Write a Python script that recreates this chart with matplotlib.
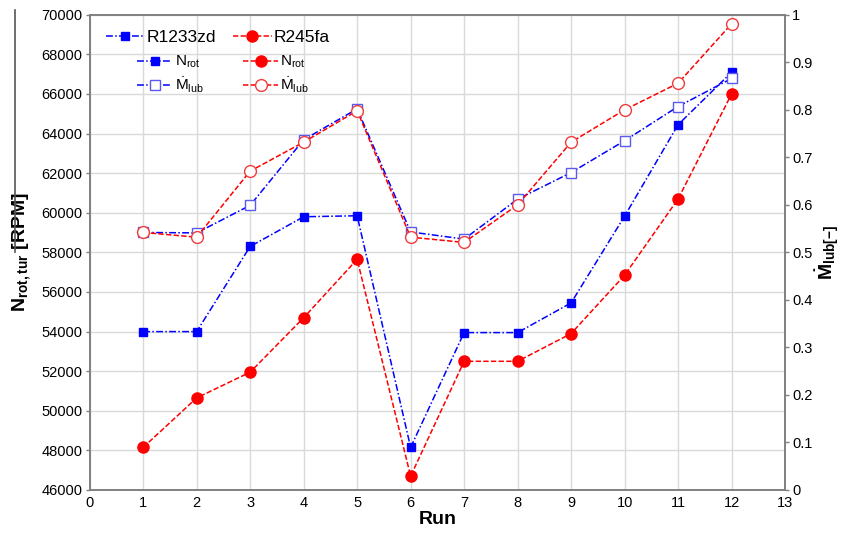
import matplotlib
matplotlib.use("Agg")
import matplotlib.pyplot as plt
from matplotlib.lines import Line2D

plt.rcParams['font.family'] = ['Liberation Sans', 'DejaVu Sans']
plt.rcParams['mathtext.fontset'] = 'custom'
plt.rcParams['mathtext.rm'] = 'Liberation Sans'
plt.rcParams['mathtext.it'] = 'Liberation Sans'
plt.rcParams['mathtext.bf'] = 'Liberation Sans:bold'

runs = [1, 2, 3, 4, 5, 6, 7, 8, 9, 10, 11, 12]
nrot_r1233zd = [54000, 54000, 58300, 59800, 59850, 48150, 53950, 53950, 55450, 59830, 64450, 67100]
nrot_r245fa = [48150, 50650, 51950, 54700, 57650, 46700, 52500, 52500, 53900, 56850, 60700, 66000]
mlub_r1233zd = [0.542, 0.541, 0.599, 0.737, 0.802, 0.543, 0.528, 0.612, 0.668, 0.735, 0.807, 0.866]
mlub_r245fa = [0.542, 0.532, 0.671, 0.732, 0.798, 0.532, 0.521, 0.600, 0.732, 0.800, 0.856, 0.981]

xticks = list(range(0, 14))
yticks_left = list(range(46000, 70001, 2000))
yticks_right = [0, 0.1, 0.2, 0.3, 0.4, 0.5, 0.6, 0.7, 0.8, 0.9, 1]
yticklabels_right = ['0', '0.1', '0.2', '0.3', '0.4', '0.5', '0.6', '0.7', '0.8', '0.9', '1']

BLUE = '#0000ff'
RED = '#ff0000'
BLUE_OPEN = '#5a5aee'
RED_OPEN = '#f03c3c'
blue_ls = (0, (4.5, 1.5, 1, 1.5))
red_ls = (0, (3.5, 1.5))

fig = plt.figure(figsize=(8.46, 5.34), dpi=100)
ax = fig.add_axes([0.106, 0.0824, 0.822, 0.8899])
ax2 = ax.twinx()

ax.set_xlim(0, 13)
ax.set_ylim(46000, 70000)
ax2.set_ylim(0, 1)
ax.set_xticks(xticks)
ax.set_yticks(yticks_left)
ax2.set_yticks(yticks_right)
ax2.set_yticklabels(yticklabels_right)

ax.grid(True, color='#d9d9d9', linewidth=1.0)
ax.set_axisbelow(True)
for a in (ax, ax2):
    for s in a.spines.values():
        s.set_color('#808080')
        s.set_linewidth(1.2)
    a.tick_params(axis='both', colors='#808080', labelcolor='black', labelsize=10.5, length=3, width=1)
ax.tick_params(axis='x', length=0, pad=4)
ax.tick_params(axis='y', pad=2)
ax2.tick_params(axis='y', pad=2)

lw = 1.1
l1, = ax.plot(runs, nrot_r1233zd, color=BLUE, linestyle=blue_ls, linewidth=lw,
              marker='s', markersize=6, markerfacecolor=BLUE, markeredgecolor=BLUE, zorder=3)
l2, = ax.plot(runs, nrot_r245fa, color=RED, linestyle=red_ls, linewidth=lw,
              marker='o', markersize=8, markerfacecolor=RED, markeredgecolor=RED, zorder=3)
l3, = ax2.plot(runs, mlub_r1233zd, color=BLUE, linestyle=blue_ls, linewidth=lw,
               marker='s', markersize=7, markerfacecolor='white', markeredgecolor=BLUE_OPEN,
               markeredgewidth=1.0, zorder=3)
l4, = ax2.plot(runs, mlub_r245fa, color=RED, linestyle=red_ls, linewidth=lw,
               marker='o', markersize=8.5, markerfacecolor='white', markeredgecolor=RED_OPEN,
               markeredgewidth=1.0, zorder=3)

ax.set_xlabel('Run', fontsize=14, fontweight='bold', labelpad=1)
ax.set_ylabel(r'$\mathbf{N_{rot,tur}}$ [RPM]', fontsize=14, fontweight='bold', labelpad=6)
ax2.set_ylabel(r'$\mathbf{\dot{M}_{lub[-]}}$', fontsize=14, labelpad=1)

# odd vertical rule at the far left of the reference
fig.add_artist(Line2D([15 / 846, 15 / 846], [1 - 10 / 534, 1 - 252 / 534],
                      color='#555555', linewidth=1.2))

h_r1 = Line2D([], [], color=BLUE, linestyle=blue_ls, linewidth=lw, marker='s', markersize=6,
              markerfacecolor=BLUE, markeredgecolor=BLUE)
h_r2 = Line2D([], [], color=RED, linestyle=red_ls, linewidth=lw, marker='o', markersize=8,
              markerfacecolor=RED, markeredgecolor=RED)
leg1 = ax2.legend([h_r1, h_r2], ['R1233zd', 'R245fa'], ncol=2, loc='upper left',
                  bbox_to_anchor=(0.003, 0.998), frameon=False, fontsize=12.5,
                  handlelength=2.2, handletextpad=0.15, columnspacing=1.0, borderpad=0.3)
ax2.add_artist(leg1)
leg2 = ax2.legend([l1, l3, l2, l4],
                  [r'N$_{\mathrm{rot}}$', r'$\dot{\mathrm{M}}_{\mathrm{lub}}$',
                   r'N$_{\mathrm{rot}}$', r'$\dot{\mathrm{M}}_{\mathrm{lub}}$'],
                  ncol=2, loc='upper left', bbox_to_anchor=(0.053, 0.94), frameon=False,
                  fontsize=11, handlelength=2.3, handletextpad=0.15, columnspacing=2.6,
                  labelspacing=0.35, borderpad=0.2)

fig.savefig('out.png', dpi=100)
